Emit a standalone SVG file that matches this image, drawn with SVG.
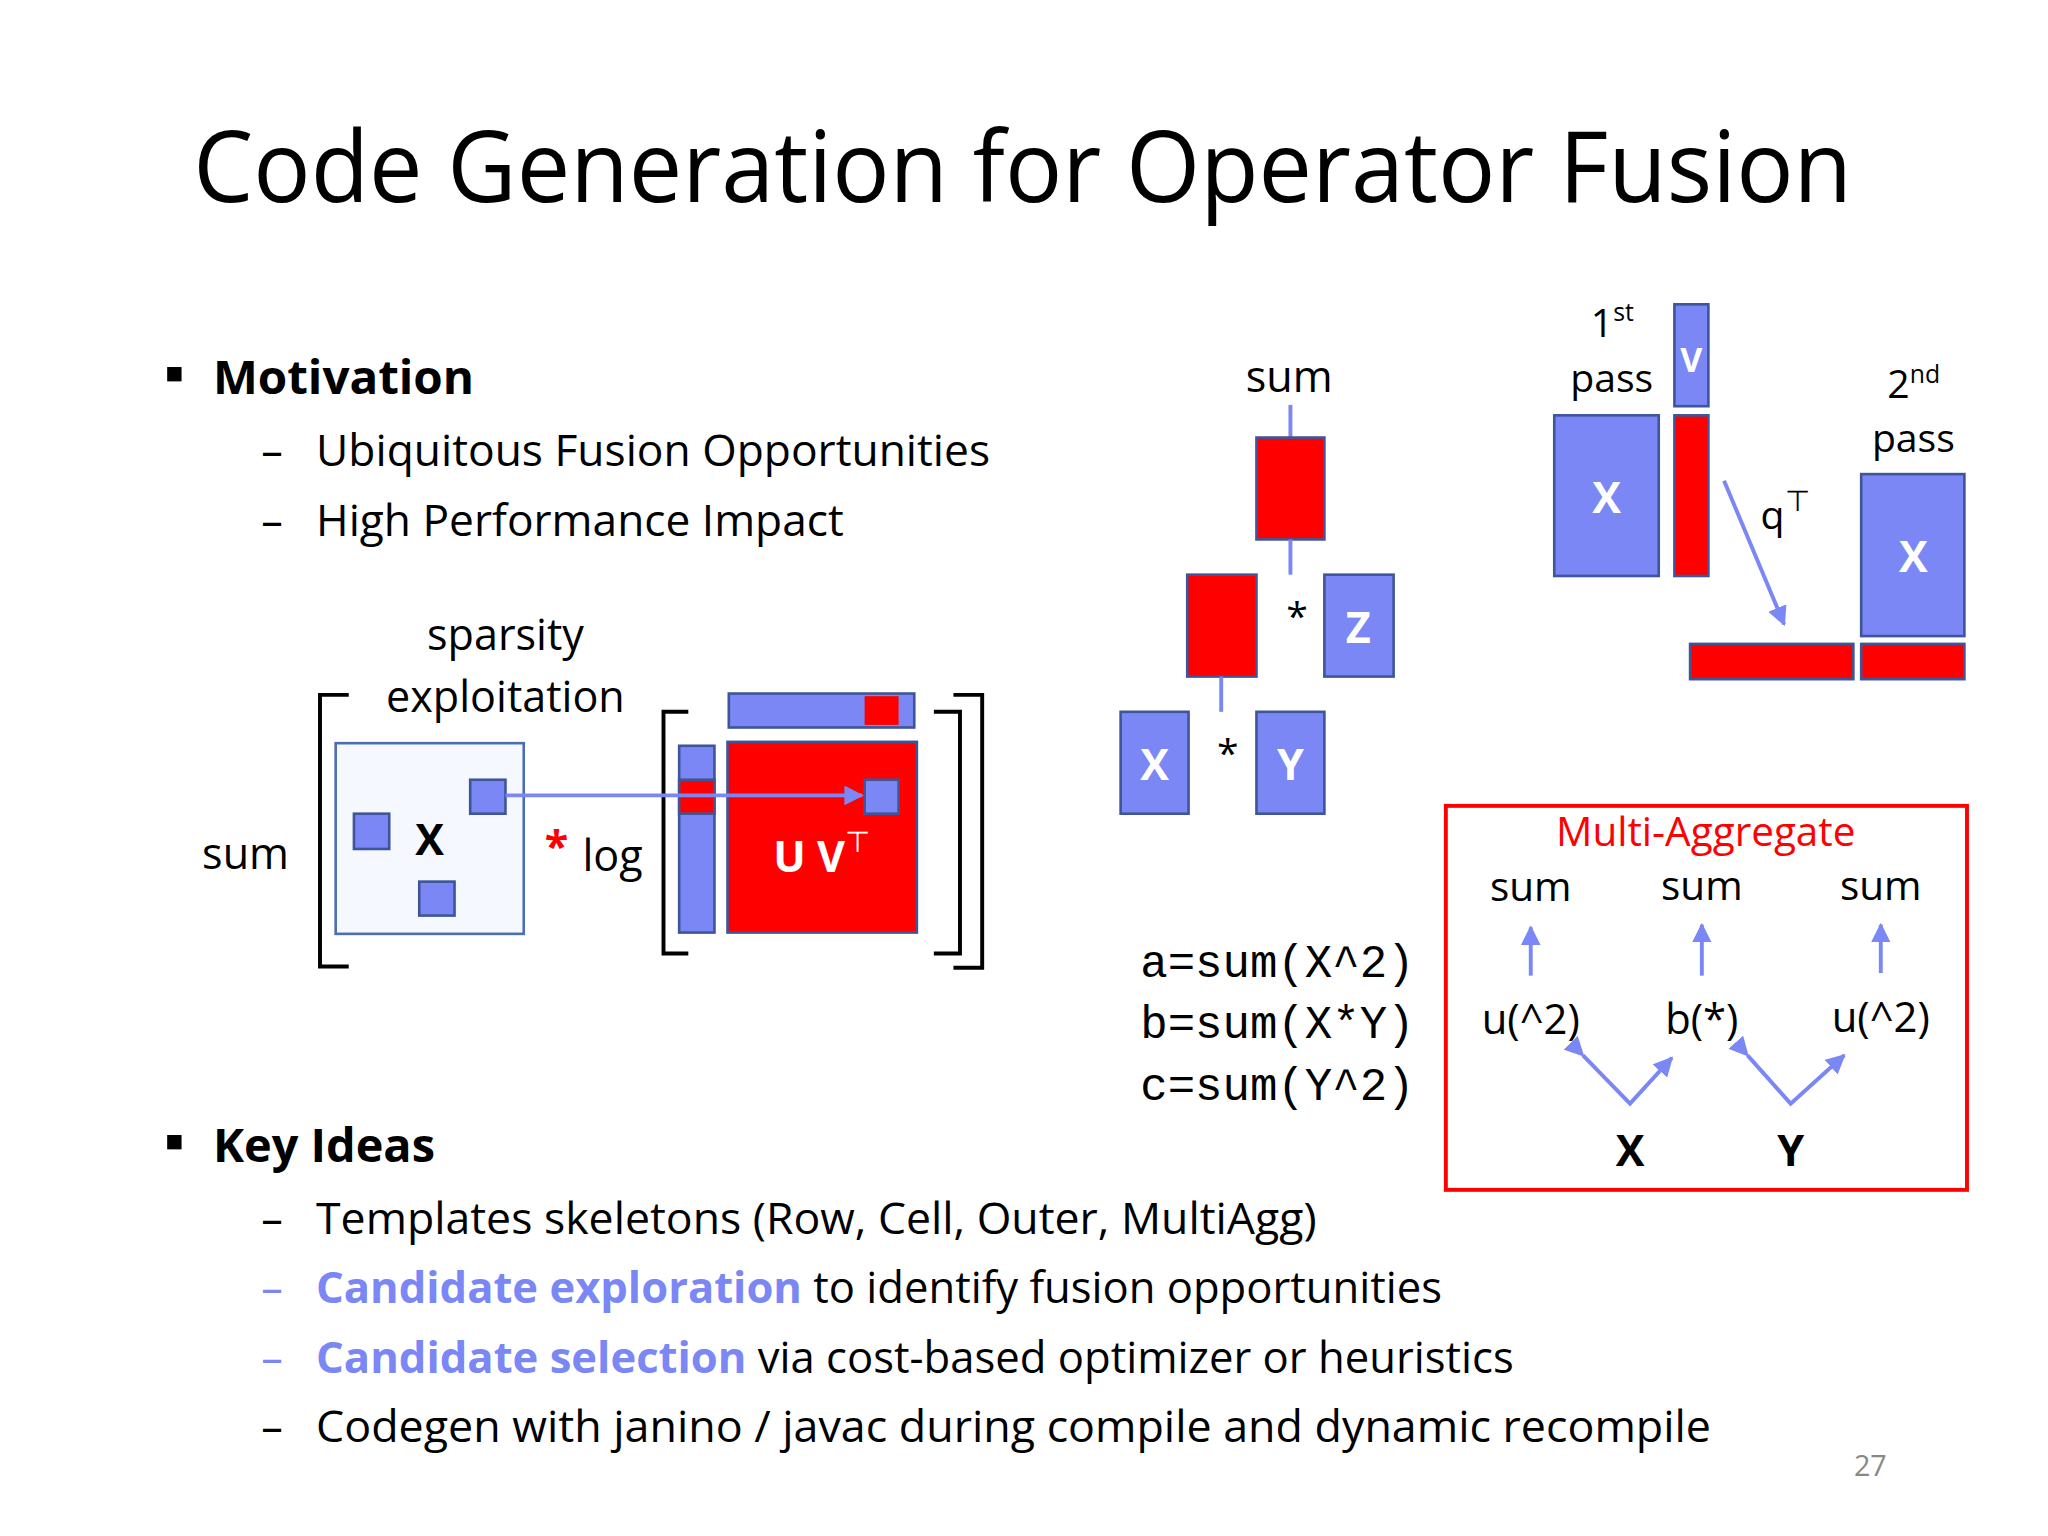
<svg xmlns="http://www.w3.org/2000/svg" width="2048" height="1536" viewBox="0 0 2048 1536">
<defs>
<style>
text{font-family:"Open Sans","Noto Sans",sans-serif;fill:#000}
.b{font-weight:bold}
.bl{fill:#7a87f5;stroke:#3f5599;stroke-width:2}
.rd{fill:#ff0000;stroke:#3f5599;stroke-width:2}
.ln{stroke:#7a87f5;stroke-width:3;fill:none}
.br{stroke:#000;stroke-width:3;fill:none}
.wt{fill:#fff;font-weight:bold}
.mono{font-family:"Liberation Mono",monospace}
</style>
<marker id="ah" viewBox="0 0 10 10" refX="9" refY="5" markerWidth="5" markerHeight="5" orient="auto"><path d="M0,0L10,5L0,10z" fill="#7a87f5"/></marker>
</defs>
<rect width="2048" height="1536" fill="#fff"/>
<g transform="scale(1.3061)">
<text x="783" y="155" font-size="76" text-anchor="middle" textLength="1270" lengthAdjust="spacingAndGlyphs">Code Generation for Operator Fusion</text>
<g id="motivation">
<rect x="128" y="281" width="11" height="11" fill="#000"/>
<text x="163" y="302" font-size="36" class="b" textLength="200" lengthAdjust="spacingAndGlyphs">Motivation</text>
<text x="200" y="357" font-size="33">–</text><text x="242" y="357" font-size="33" textLength="516" lengthAdjust="spacingAndGlyphs">Ubiquitous Fusion Opportunities</text>
<text x="200" y="410" font-size="33">–</text><text x="242" y="410" font-size="33" textLength="404" lengthAdjust="spacingAndGlyphs">High Performance Impact</text>
</g>
<g id="keyideas">
<rect x="128" y="869" width="11" height="11" fill="#000"/>
<text x="163" y="890" font-size="36" class="b" textLength="170" lengthAdjust="spacingAndGlyphs">Key Ideas</text>
<text x="200" y="945" font-size="33">–</text><text x="242" y="945" font-size="33" textLength="766" lengthAdjust="spacingAndGlyphs">Templates skeletons (Row, Cell, Outer, MultiAgg)</text>
<text x="200" y="998" font-size="33" style="fill:#7a87f5">–</text><text x="242" y="998" font-size="33" textLength="862" lengthAdjust="spacingAndGlyphs"><tspan class="b" style="fill:#7a87f5">Candidate exploration</tspan> to identify fusion opportunities</text>
<text x="200" y="1051" font-size="33" style="fill:#7a87f5">–</text><text x="242" y="1051" font-size="33" textLength="917" lengthAdjust="spacingAndGlyphs"><tspan class="b" style="fill:#7a87f5">Candidate selection</tspan> via cost-based optimizer or heuristics</text>
<text x="200" y="1104" font-size="33">–</text><text x="242" y="1104" font-size="33" textLength="1068" lengthAdjust="spacingAndGlyphs">Codegen with janino / javac during compile and dynamic recompile</text>
</g>
<text x="1432" y="1130" font-size="22" text-anchor="middle" style="fill:#888">27</text>

<g id="sparsity">
<text x="387" y="498" font-size="33" text-anchor="middle">sparsity</text>
<text x="387" y="545" font-size="33" text-anchor="middle">exploitation</text>
<text x="188" y="665" font-size="33" text-anchor="middle">sum</text>
<path class="br" d="M267,532H245V740H267"/>
<rect x="257" y="569" width="144" height="146" fill="#f6f8ff" stroke="#4a6fb0" stroke-width="2"/>
<rect class="bl" x="271" y="623" width="27" height="27"/>
<rect class="bl" x="360" y="597" width="27" height="26"/>
<rect class="bl" x="321" y="675" width="27" height="26"/>
<text x="329" y="655" font-size="33" class="b" text-anchor="middle">X</text>
<text x="426" y="660" font-size="33" class="b" text-anchor="middle" style="fill:#ff0000">*</text>
<text x="469" y="667" font-size="33" text-anchor="middle">log</text>
<path class="br" d="M527,545H508V730H527"/>
<path class="br" d="M715,545H735V730H715"/>
<path class="br" d="M730,532H752V741H730"/>
<rect class="bl" x="520" y="571" width="27" height="143"/>
<rect class="rd" x="520" y="597" width="27" height="26"/>
<rect class="bl" x="558" y="531" width="142" height="26"/>
<rect x="662" y="533" width="26" height="22" fill="#ff0000"/>
<rect class="rd" x="557" y="568" width="145" height="146"/>
<text x="592" y="668" font-size="33" class="wt">U V<tspan font-size="22" dy="-16" font-weight="normal">⊤</tspan></text>
<rect class="bl" x="662" y="597" width="26" height="26"/>
<line class="ln" x1="387" y1="609" x2="660" y2="609" marker-end="url(#ah)"/>
</g>

<g id="tree">
<text x="987" y="300" font-size="33" text-anchor="middle">sum</text>
<line class="ln" x1="988" y1="310" x2="988" y2="335"/>
<rect class="rd" x="962" y="335" width="52" height="78"/>
<line class="ln" x1="988" y1="413" x2="988" y2="440"/>
<rect class="rd" x="909" y="440" width="53" height="78"/>
<text x="993" y="482" font-size="30" text-anchor="middle">*</text>
<rect class="bl" x="1014" y="440" width="53" height="78"/>
<text x="1040" y="492" font-size="33" class="wt" text-anchor="middle">Z</text>
<line class="ln" x1="935" y1="518" x2="935" y2="545"/>
<rect class="bl" x="858" y="545" width="52" height="78"/>
<text x="884" y="597" font-size="33" class="wt" text-anchor="middle">X</text>
<rect class="bl" x="962" y="545" width="52" height="78"/>
<text x="988" y="597" font-size="33" class="wt" text-anchor="middle">Y</text>
<text x="940" y="587" font-size="30" text-anchor="middle">*</text>
</g>

<g id="passes">
<text x="1218" y="258" font-size="30">1<tspan font-size="19" dy="-12">st</tspan></text>
<text x="1234" y="300" font-size="30" text-anchor="middle">pass</text>
<rect class="bl" x="1282" y="233" width="26" height="78"/>
<text x="1295" y="285" font-size="26" class="wt" font-weight="normal" text-anchor="middle">V</text>
<rect class="bl" x="1190" y="318" width="80" height="123"/>
<text x="1230" y="393" font-size="33" class="wt" text-anchor="middle">X</text>
<rect class="rd" x="1282" y="318" width="26" height="123"/>
<line class="ln" x1="1320" y1="368" x2="1366" y2="478" marker-end="url(#ah)"/>
<text x="1348" y="405" font-size="30">q<tspan font-size="22" dy="-14">⊤</tspan></text>
<text x="1445" y="305" font-size="30">2<tspan font-size="19" dy="-12">nd</tspan></text>
<text x="1465" y="346" font-size="30" text-anchor="middle">pass</text>
<rect class="bl" x="1425" y="363" width="79" height="124"/>
<text x="1465" y="438" font-size="33" class="wt" text-anchor="middle">X</text>
<rect class="rd" x="1294" y="493" width="125" height="27"/>
<rect class="rd" x="1425" y="493" width="79" height="27"/>
</g>

<g id="code">
<text x="873" y="748" font-size="35" class="mono">a=sum(X^2)</text>
<text x="873" y="795" font-size="35" class="mono">b=sum(X*Y)</text>
<text x="873" y="842" font-size="35" class="mono">c=sum(Y^2)</text>
</g>

<g id="multiagg">
<rect x="1107" y="617" width="399" height="294" fill="none" stroke="#ff0000" stroke-width="3"/>
<text x="1306" y="648" font-size="31" text-anchor="middle" style="fill:#ff0000">Multi-Aggregate</text>
<text x="1172" y="690" font-size="31" text-anchor="middle">sum</text>
<text x="1303" y="689" font-size="31" text-anchor="middle">sum</text>
<text x="1440" y="689" font-size="31" text-anchor="middle">sum</text>
<text x="1172" y="792" font-size="32" text-anchor="middle">u(^2)</text>
<text x="1303" y="792" font-size="32" text-anchor="middle">b(*)</text>
<text x="1440" y="790" font-size="32" text-anchor="middle">u(^2)</text>
<text x="1248" y="893" font-size="33" class="b" text-anchor="middle">X</text>
<text x="1371" y="893" font-size="33" class="b" text-anchor="middle">Y</text>
</g>
<g id="connectors">
<line class="ln" x1="1172" y1="747" x2="1172" y2="710" marker-end="url(#ah)"/>
<line class="ln" x1="1303" y1="747" x2="1303" y2="708" marker-end="url(#ah)"/>
<line class="ln" x1="1440" y1="745" x2="1440" y2="708" marker-end="url(#ah)"/>
<polyline class="ln" points="1212,808 1248,845 1280,810" marker-start="url(#ah)" marker-end="url(#ah)"/>
<polyline class="ln" points="1338,808 1371,845 1412,808" marker-start="url(#ah)" marker-end="url(#ah)"/>
</g>
</g>
</svg>
